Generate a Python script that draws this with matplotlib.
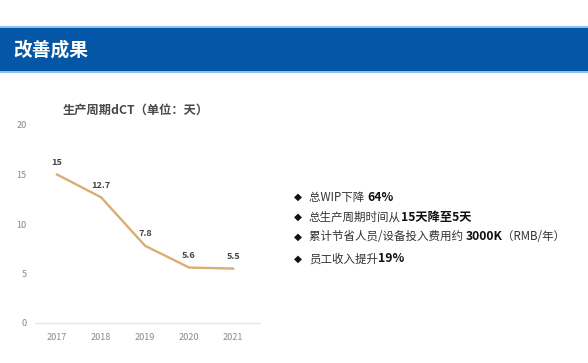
import matplotlib
matplotlib.use('Agg')
import matplotlib.pyplot as plt
from matplotlib.patches import Rectangle

plt.rcParams['font.family'] = ['Noto Sans CJK SC', 'DejaVu Sans']

# data
years = ['2017', '2018', '2019', '2020', '2021']
dct = [15, 12.7, 7.8, 5.6, 5.5]
y_ticks = [0, 5, 10, 15, 20]

# bullet points: (normal part, bold part, trailing normal part)
bullets = [
    ('总WIP下降 ', '64%', ''),
    ('总生产周期时间从', '15天降至5天', ''),
    ('累计节省人员/设备投入费用约 ', '3000K', '（RMB/年）'),
    ('员工收入提升', '19%', ''),
]


def main():
    W, H = 588, 363
    fig = plt.figure(figsize=(W / 100, H / 100), dpi=100)
    fig.patch.set_facecolor('white')

    # header banner
    fig.patches.append(Rectangle((0, 1 - 72 / H), 1, 45 / H, transform=fig.transFigure,
                                 facecolor='#0556A6', edgecolor='none', zorder=0))
    for yy in (27, 72):
        fig.patches.append(Rectangle((0, 1 - (yy + 1) / H), 1, 2 / H, transform=fig.transFigure,
                                     facecolor='#86C3EA', edgecolor='none', zorder=1))
    fig.text(13 / W, 1 - 50 / H, '改善成果', color='white', fontsize=13.5,
             fontweight='bold', va='center', ha='left')

    # line chart
    ax = fig.add_axes([35 / W, 1 - 323 / H, 225 / W, 198 / H])
    x = list(range(len(years)))
    ax.plot(x, dct, color='#DAAD74', lw=1.7, solid_joinstyle='round')
    for xi, v in zip(x, dct):
        ax.annotate(f'{v:g}', (xi, v), xytext=(0, 8.5), textcoords='offset points',
                    ha='center', va='center', fontsize=6.6, color='#444444',
                    fontweight='bold')
    ax.set_xlim(-0.5, 4.61)
    ax.set_ylim(0, 20)
    ax.set_xticks(x)
    ax.set_xticklabels(years)
    ax.set_yticks(y_ticks)
    ax.tick_params(axis='both', length=0, labelsize=6.6, labelcolor='#8a8a8a')
    ax.tick_params(axis='y', pad=6)
    ax.tick_params(axis='x', pad=7)
    for s in ('top', 'right', 'left'):
        ax.spines[s].set_visible(False)
    ax.spines['bottom'].set_color('#e6e6e6')
    ax.spines['bottom'].set_linewidth(1)
    ax.set_facecolor('none')

    fig.text(136 / W, 1 - 110 / H, '生产周期dCT（单位：天）', ha='center', va='center',
             fontsize=8.8, fontweight='bold', color='#4a4a4a')

    # bullets, each line built from normal + bold pieces placed end to end
    ys = [197, 217, 237, 259]
    for (a, b, c), yy in zip(bullets, ys):
        fy = 1 - yy / H
        fig.text(298 / W, fy, '◆', ha='center', va='center', fontsize=7.5,
                 color='#111111', family=['DejaVu Sans'])
        t1 = fig.text(309 / W, fy, a, ha='left', va='center', fontsize=8.3, color='#333333')
        t2 = ax.annotate(b, xy=(1, 0.5), xycoords=t1, va='center', ha='left',
                         fontsize=8.8, fontweight='bold', color='#111111',
                         annotation_clip=False)
        if c:
            ax.annotate(c, xy=(1, 0.5), xycoords=t2, va='center', ha='left',
                        fontsize=8.3, color='#333333', annotation_clip=False)

    fig.savefig('out.png', dpi=100)


if __name__ == '__main__':
    main()
